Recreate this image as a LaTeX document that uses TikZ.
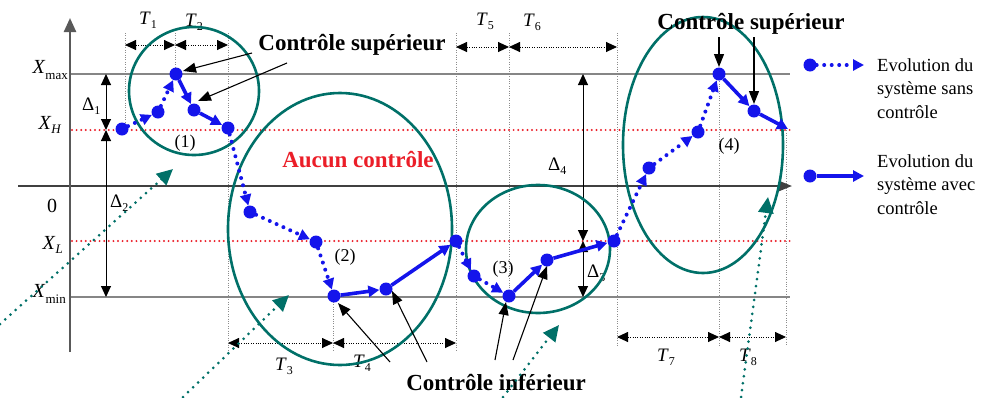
\documentclass[tikz,border=0pt]{standalone}
\usepackage{fontspec}
\setmainfont{Liberation Serif}
\usetikzlibrary{arrows.meta}
\definecolor{tealc}{RGB}{0,112,104}
\definecolor{blu}{RGB}{20,20,235}
\definecolor{redd}{RGB}{235,30,40}
\newcommand{\sbs}[1]{\raisebox{-4.5pt}{\fontsize{12}{12}\selectfont #1}}
\tikzset{
  gridl/.style={draw=gray!95, line width=1.8pt},
  zerol/.style={draw=black!75, line width=2pt},
  redl/.style={draw=redd, line width=2.2pt, line cap=round, dash pattern=on 0pt off 4.6pt},
  vdot/.style={draw=black!45, line width=0.9pt, dash pattern=on 1pt off 1.4pt},
  dimarr/.style={draw=black, line width=0.9pt, dash pattern=on 1pt off 1.4pt,
     {Triangle[length=11pt,width=10pt]}-{Triangle[length=11pt,width=10pt]}},
  delarr/.style={draw=black, line width=1pt,
     {Triangle[length=11pt,width=10pt]}-{Triangle[length=11pt,width=10pt]}},
  annarr/.style={draw=black, line width=1.1pt, -{Triangle[length=13pt,width=10pt]}},
  ell/.style={draw=tealc, line width=2.6pt},
  tarr/.style={draw=tealc, line width=3pt, line cap=round, dash pattern=on 0pt off 7pt,
     -{Triangle[length=16pt,width=15pt]}},
  bdot/.style={circle, fill=blu, inner sep=0pt, minimum size=13pt},
  unc/.style={draw=blu, line width=4pt, line cap=round, dash pattern=on 0pt off 7.5pt,
     -{Triangle[length=11pt,width=11pt]}},
  ctl/.style={draw=blu, line width=3.6pt, -{Triangle[length=11pt,width=11pt]}},
  lab/.style={inner sep=0pt, font=\fontsize{20}{20}\selectfont},
  tlab/.style={inner sep=0pt, anchor=base west, font=\fontsize{19}{19}\selectfont},
  num/.style={inner sep=0pt, font=\fontsize{18}{18}\selectfont},
  blab/.style={inner sep=0pt, font=\fontsize{23}{23}\selectfont\bfseries},
  leg/.style={inner sep=0pt, anchor=base west, align=left, font=\fontsize{18.5}{23.5}\selectfont},
}
\begin{document}
\begin{tikzpicture}[x=1pt, y=-1pt]
\path[use as bounding box] (0,0) rectangle (994,397);

% vertical dotted guide lines
\draw[vdot] (125,33) -- (125,130);
\draw[vdot] (175,33) -- (175,74);
\draw[vdot] (228,33) -- (228,352);
\draw[vdot] (333,297) -- (333,352);
\draw[vdot] (456,33) -- (456,352);
\draw[vdot] (509,33) -- (509,297);
\draw[vdot] (617,33) -- (617,346);
\draw[vdot] (719,74) -- (719,346);
\draw[vdot] (786,128) -- (786,346);

% horizontal level lines
\coordinate (ax0) at (70,352);
\coordinate (ax1) at (70,18);
\coordinate (z0) at (18,186);
\coordinate (z1) at (792,186);
\draw[gridl] (70,74) -- (790,74);
\draw[gridl] (70,297) -- (790,297);
\draw[redl] (72,130) -- (790,130);
\draw[redl] (72,241) -- (790,241);
\draw[zerol, -{Triangle[length=13pt,width=10pt]}] (z0) -- (z1);
\draw[draw=black!65, line width=2.4pt, -{Triangle[length=14pt,width=12pt]}] (ax0) -- (ax1);

% level labels
\node[lab, anchor=base east] (lxmax) at (68,73) {\textit{X}\raisebox{-6pt}{\fontsize{13}{13}\selectfont max}};
\node[lab, anchor=base east] (lxh) at (61,129) {\textit{X}\raisebox{-4pt}{\fontsize{13}{13}\selectfont\itshape H}};
\node[lab] (lzero) at (52,206) {0};
\node[lab, anchor=base east] (lxl) at (63,249) {\textit{X}\raisebox{-4pt}{\fontsize{13}{13}\selectfont\itshape L}};
\node[lab, anchor=base east] (lxmin) at (66,297) {\textit{X}\raisebox{-6pt}{\fontsize{13}{13}\selectfont min}};

% time dimension arrows
\coordinate (ta) at (125,45); \coordinate (tb) at (175,45); \coordinate (tc) at (228,45);
\coordinate (td) at (456,47); \coordinate (te) at (509,47); \coordinate (tf) at (617,47);
\coordinate (tg) at (228,343); \coordinate (th) at (333,343); \coordinate (ti) at (456,343);
\coordinate (tj) at (617,337); \coordinate (tk) at (719,337); \coordinate (tl) at (786,337);
\draw[dimarr] (ta) -- (tb);
\draw[dimarr] (tb) -- (tc);
\draw[dimarr] (td) -- (te);
\draw[dimarr] (te) -- (tf);
\draw[dimarr] (tg) -- (th);
\draw[dimarr] (th) -- (ti);
\draw[dimarr] (tj) -- (tk);
\draw[dimarr] (tk) -- (tl);
\node[tlab] (lt1) at (139,24) {\textit{T}\sbs{1}};
\node[tlab] (lt2) at (185,26) {\textit{T}\sbs{2}};
\node[tlab] (lt5) at (476,25) {\textit{T}\sbs{5}};
\node[tlab] (lt6) at (523,26) {\textit{T}\sbs{6}};
\node[tlab] (lt3) at (275,370) {\textit{T}\sbs{3}};
\node[tlab] (lt4) at (353,367) {\textit{T}\sbs{4}};
\node[tlab] (lt7) at (657,361) {\textit{T}\sbs{7}};
\node[tlab] (lt8) at (739,361) {\textit{T}\sbs{8}};

% delta arrows
\coordinate (da) at (106,74); \coordinate (db) at (106,130); \coordinate (dc) at (106,297);
\coordinate (dd) at (583,74); \coordinate (de) at (583,241); \coordinate (df) at (583,297);
\draw[delarr] (da) -- (db);
\draw[delarr] (db) -- (dc);
\draw[delarr] (dd) -- (de);
\draw[delarr] (de) -- (df);
\node[tlab] (ld1) at (82,110) {Δ\sbs{1}};
\node[tlab] (ld2) at (110,207) {Δ\sbs{2}};
\node[tlab] (ld3) at (587,277) {Δ\sbs{3}};
\node[tlab] (ld4) at (548,170) {Δ\sbs{4}};

% ellipses
\draw[ell] (194,91) ellipse [x radius=65, y radius=64];
\draw[ell] (340,229) ellipse [x radius=112, y radius=136];
\draw[ell] (538,249) ellipse [x radius=72, y radius=64];
\draw[ell] (703,145) ellipse [x radius=80, y radius=128];

% trajectory points
\node[bdot] (p0) at (122,129) {};
\node[bdot] (p1) at (158,112) {};
\node[bdot] (p2) at (176,74) {};
\node[bdot] (p3) at (194,110) {};
\node[bdot] (p4) at (228,128) {};
\node[bdot] (p5) at (250,212) {};
\node[bdot] (p6) at (316,242) {};
\node[bdot] (p7) at (334,296) {};
\node[bdot] (p8) at (386,289) {};
\node[bdot] (p9) at (456,241) {};
\node[bdot] (p10) at (474,276) {};
\node[bdot] (p11) at (509,296) {};
\node[bdot] (p12) at (547,260) {};
\node[bdot] (p13) at (614,241) {};
\node[bdot] (p14) at (649,168) {};
\node[bdot] (p15) at (698,132) {};
\node[bdot] (p16) at (719,74) {};
\node[bdot] (p17) at (754,111) {};
\coordinate (p18) at (788,129);

\draw[unc] (p0) -- (p1);
\draw[unc] (p1) -- (p2);
\draw[ctl] (p2) -- (p3);
\draw[ctl] (p3) -- (p4);
\draw[unc] (p4) -- (p5);
\draw[unc] (p5) -- (p6);
\draw[unc] (p6) -- (p7);
\draw[ctl] (p7) -- (p8);
\draw[ctl] (p8) -- (p9);
\draw[unc] (p9) -- (p10);
\draw[unc] (p10) -- (p11);
\draw[ctl] (p11) -- (p12);
\draw[ctl] (p12) -- (p13);
\draw[unc] (p13) -- (p14);
\draw[unc] (p14) -- (p15);
\draw[unc] (p15) -- (p16);
\draw[ctl] (p16) -- (p17);
\draw[ctl] (p17) -- (p18);

% zone numbers
\node[num] (n1) at (185,143) {(1)};
\node[num] (n2) at (345,257) {(2)};
\node[num] (n3) at (503,269) {(3)};
\node[num] (n4) at (729,146) {(4)};

% red label
\node[blab, text=redd] (aucun) at (358,160) {Aucun contrôle};

% annotations
\node[blab] (csup1) at (352,45) {Contrôle supérieur};
\node[blab] (csup2) at (751,24) {Contrôle supérieur};
\node[blab] (cinf) at (496,383) {Contrôle inférieur};
\coordinate (s1a) at (252,53); \coordinate (s1b) at (287,63);
\coordinate (s1c) at (183,71); \coordinate (s1d) at (198,101);
\draw[annarr] (s1a) -- (s1c);
\draw[annarr] (s1b) -- (s1d);
\coordinate (s2a) at (719,37); \coordinate (s2b) at (754,37);
\coordinate (s2c) at (719,67); \coordinate (s2d) at (754,104);
\draw[annarr] (s2a) -- (s2c);
\draw[annarr] (s2b) -- (s2d);
\coordinate (i1) at (390,362); \coordinate (i2) at (427,362);
\coordinate (i3) at (495,360); \coordinate (i4) at (513,360);
\coordinate (i1e) at (338,303); \coordinate (i2e) at (392,291);
\coordinate (i3e) at (506,302); \coordinate (i4e) at (547,266);
\draw[annarr] (i1) -- (i1e);
\draw[annarr] (i2) -- (i2e);
\draw[annarr] (i3) -- (i3e);
\draw[annarr] (i4) -- (i4e);

% teal pointer arrows
\coordinate (q1a) at (0,324); \coordinate (q1b) at (173,169);
\coordinate (q2a) at (183,397); \coordinate (q2b) at (289,295);
\coordinate (q3a) at (503,397); \coordinate (q3b) at (559,325);
\coordinate (q4a) at (741,397); \coordinate (q4b) at (768,197);
\draw[tarr] (q1a) -- (q1b);
\draw[tarr] (q2a) -- (q2b);
\draw[tarr] (q3a) -- (q3b);
\draw[tarr] (q4a) -- (q4b);

% legend
\node[bdot] (l1d) at (810,65) {};
\coordinate (l1e) at (864,65);
\draw[unc] (l1d) -- (l1e);
\node[leg] (l1t) at (877,118) {Evolution du\\système sans\\contrôle};
\node[bdot] (l2d) at (810,176) {};
\coordinate (l2e) at (864,176);
\draw[ctl] (l2d) -- (l2e);
\node[leg] (l2t) at (877,214) {Evolution du\\système avec\\contrôle};
\end{tikzpicture}
\end{document}
